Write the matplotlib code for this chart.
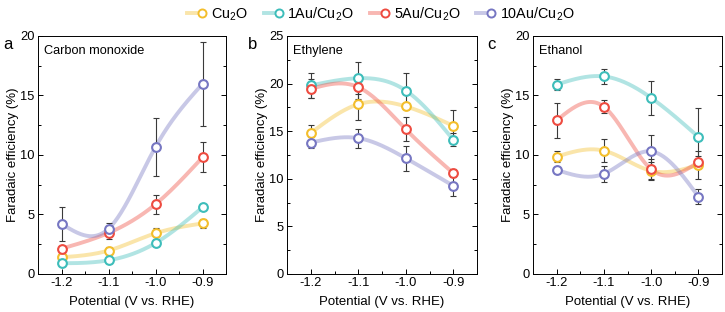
import numpy as np
import matplotlib
matplotlib.use("Agg")
import matplotlib.pyplot as plt
from matplotlib.ticker import MultipleLocator
from matplotlib.lines import Line2D
from matplotlib.legend_handler import HandlerTuple

plt.rcParams["font.family"] = ["Liberation Sans", "DejaVu Sans"]
plt.rcParams["mathtext.fontset"] = "custom"
plt.rcParams["mathtext.rm"] = "Liberation Sans"
plt.rcParams["mathtext.default"] = "regular"

potential = [-1.2, -1.1, -1.0, -0.9]
samples = ["Cu$_2$O", "1Au/Cu$_2$O", "5Au/Cu$_2$O", "10Au/Cu$_2$O"]
colors = ["#F3BE2C", "#3DBDBA", "#EE4B40", "#7676C2"]

# Carbon monoxide
co_fe = [
    [1.4, 1.97, 3.42, 4.25],
    [0.9, 1.15, 2.6, 5.6],
    [2.13, 3.45, 5.86, 9.8],
    [4.22, 3.8, 10.67, 15.97],
]
co_err = [
    [0.2, 0.3, 0.45, 0.35],
    [0.15, 0.2, 0.25, 0.2],
    [0.25, 0.5, 0.8, 1.27],
    [1.42, 0.5, 2.42, 3.5],
]

# Ethylene
c2h4_fe = [
    [14.8, 17.83, 17.6, 15.56],
    [19.8, 20.56, 19.27, 14.1],
    [19.44, 19.62, 15.2, 10.6],
    [13.8, 14.27, 12.16, 9.27],
]
c2h4_err = [
    [0.85, 1.63, 0.25, 1.65],
    [1.3, 1.68, 1.8, 0.7],
    [1.0, 1.2, 1.27, 0.4],
    [0.6, 1.0, 1.3, 1.05],
]

# Ethanol
etoh_fe = [
    [9.86, 10.36, 8.67, 9.17],
    [15.92, 16.6, 14.8, 11.52],
    [12.9, 14.05, 8.8, 9.4],
    [8.75, 8.42, 10.3, 6.5],
]
etoh_err = [
    [0.45, 0.97, 0.7, 1.2],
    [0.45, 0.65, 1.4, 2.45],
    [1.45, 0.55, 0.9, 0.5],
    [0.2, 0.65, 1.4, 0.6],
]


def natural_spline(x, y, n=200):
    # natural cubic spline through the points, for the smooth guide line
    x = np.asarray(x, float)
    y = np.asarray(y, float)
    k = len(x)
    h = np.diff(x)
    A = np.zeros((k, k))
    b = np.zeros(k)
    A[0, 0] = A[-1, -1] = 1
    for i in range(1, k - 1):
        A[i, i - 1] = h[i - 1]
        A[i, i] = 2 * (h[i - 1] + h[i])
        A[i, i + 1] = h[i]
        b[i] = 6 * ((y[i + 1] - y[i]) / h[i] - (y[i] - y[i - 1]) / h[i - 1])
    M = np.linalg.solve(A, b)
    xs = np.linspace(x[0], x[-1], n)
    ys = np.empty_like(xs)
    for j, t in enumerate(xs):
        i = min(np.searchsorted(x, t, side="right") - 1, k - 2)
        a, c = x[i], x[i + 1]
        hi = c - a
        ys[j] = (M[i] * (c - t) ** 3 / (6 * hi) + M[i + 1] * (t - a) ** 3 / (6 * hi)
                 + (y[i] / hi - M[i] * hi / 6) * (c - t)
                 + (y[i + 1] / hi - M[i + 1] * hi / 6) * (t - a))
    return xs, ys


fig = plt.figure(figsize=(7.25, 3.12), dpi=100)

panels = [
    ("a", "Carbon monoxide", co_fe, co_err, 20, [38 / 725, 0.1218, 188 / 725, 0.763], 3),
    ("b", "Ethylene", c2h4_fe, c2h4_err, 25, [287 / 725, 0.1218, 190 / 725, 0.763], 248),
    ("c", "Ethanol", etoh_fe, etoh_err, 20, [533 / 725, 0.1218, 189 / 725, 0.763], 487),
]

for letter, title, fe, err, ymax, rect, letter_x in panels:
    ax = fig.add_axes(rect)
    for i in range(4):
        xs, ys = natural_spline(potential, fe[i])
        ax.plot(xs, ys, color=colors[i], alpha=0.4, lw=2.8, solid_capstyle="round", zorder=1)
    for i in range(4):
        ax.errorbar(potential, fe[i], yerr=err[i], fmt="none", ecolor="#3a3a3a",
                    elinewidth=0.8, capsize=2.2, capthick=0.8, zorder=2)
    for i in range(4):
        ax.plot(potential, fe[i], "o", ms=6.3, mfc="white", mec=colors[i], mew=1.5, zorder=3)

    ax.set_xlim(-1.25, -0.85)
    ax.set_ylim(0, ymax)
    ax.set_xticks(potential)
    ax.set_xticklabels(["-1.2", "-1.1", "-1.0", "-0.9"])
    ax.xaxis.set_minor_locator(MultipleLocator(0.05))
    ax.yaxis.set_major_locator(MultipleLocator(5))
    ax.yaxis.set_minor_locator(MultipleLocator(2.5))
    ax.tick_params(which="both", direction="in", right=True, labelsize=9.3, width=0.7, pad=2.5)
    ax.tick_params(which="major", length=3.5)
    ax.tick_params(which="minor", length=2)
    for s in ax.spines.values():
        s.set_linewidth(0.7)
    ax.set_xlabel("Potential (V vs. RHE)", fontsize=9.5, labelpad=5)
    ax.set_ylabel("Faradaic efficiency (%)", fontsize=9.5, labelpad=1)
    ax.text(0.03, 0.96, title, transform=ax.transAxes, ha="left", va="top", fontsize=9.2)
    fig.text(letter_x / 725, 1 - 37 / 312, letter, ha="left", va="top", fontsize=12)

pairs = [(Line2D([], [], color=c, lw=2.8, alpha=0.4),
          Line2D([], [], marker="o", ms=5.8, mfc="white", mec=c, mew=1.4, lw=0))
         for c in colors]
fig.legend(pairs, samples, handler_map={tuple: HandlerTuple(ndivide=None, pad=0)},
           loc="upper center", bbox_to_anchor=(0.525, 1.025), ncol=4, frameon=False,
           fontsize=10.4, handlelength=1.4, handletextpad=0.25, columnspacing=1.1)

fig.savefig("out.png", dpi=100)
